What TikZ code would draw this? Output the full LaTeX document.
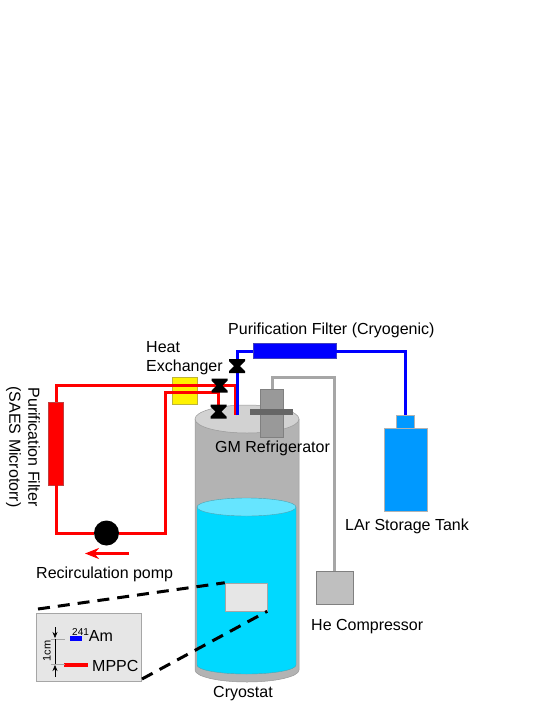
\documentclass[tikz,border=0pt]{standalone}
\usepackage{fontspec}
\setmainfont{Liberation Sans}
\usetikzlibrary{arrows.meta, positioning, calc}
\definecolor{cryogray}{HTML}{B3B3B3}
\definecolor{lidgray}{HTML}{D2D2D2}
\definecolor{pipegray}{HTML}{A6A6A6}
\definecolor{lar}{HTML}{00D9FF}
\definecolor{larlight}{HTML}{66E5FF}
\definecolor{tankblue}{HTML}{0099FF}
\definecolor{boxgray}{HTML}{E6E6E6}
\tikzset{
  lbl/.style={inner sep=0pt, font=\fontsize{16}{19}\selectfont, align=left},
  redline/.style={draw=red, line width=3pt},
  blueline/.style={draw=blue, line width=3pt},
  solidbox/.style={inner sep=0pt, line width=0.5pt},
}
\newcommand{\valve}[1]{\fill[black, shift={(#1)}] (-8,-7) -- (8,-7) -- (8,-5) -- (3,0) -- (8,5) -- (8,7) -- (-8,7) -- (-8,5) -- (-3,0) -- (-8,-5) -- cycle;}

\begin{document}
\begin{tikzpicture}[x=1pt, y=-1pt]
  \useasboundingbox (0,0) rectangle (545,705);

  % Cryostat
  \draw[gray!80, line width=0.5pt, fill=cryogray] (195,419) -- (195,670) arc[x radius=52pt, y radius=12pt, start angle=180, end angle=360] -- (299,419) -- cycle;
  \draw[gray!80, line width=0.5pt, fill=lidgray] (247,419) ellipse[x radius=52pt, y radius=14pt];

  % Liquid argon
  \draw[gray!60!lar, line width=0.4pt, fill=lar] (197,507) -- (197,665) arc[x radius=49.5pt, y radius=9pt, start angle=180, end angle=360] -- (296,507) -- cycle;
  \draw[gray!60!lar, line width=0.4pt, fill=larlight] (246.5,507) ellipse[x radius=49.5pt, y radius=9pt];

  % Main parts
  \node[solidbox, draw=yellow!70!black, fill=yellow, minimum width=25pt, minimum height=27pt] (hx) at (184.5,391) {};
  \node[solidbox, draw=gray!50!blue, fill=blue, minimum width=83pt, minimum height=15pt] (cryofilter) at (294.5,351) {};
  \node[solidbox, draw=gray!50!red, fill=red, minimum width=15pt, minimum height=83pt] (saesfilter) at (56,443.5) {};
  \node[circle, fill=black, inner sep=0pt, minimum size=25pt] (pump) at (106.5,533) {};
  \node[solidbox, draw=gray!60, fill=tankblue, minimum width=18pt, minimum height=13pt] (tankneck) at (405.5,421.5) {};
  \node[solidbox, draw=gray!60, fill=tankblue, minimum width=43pt, minimum height=83pt] (tank) at (405.5,470) {};
  \node[solidbox, draw=gray, fill=gray!50, minimum width=37pt, minimum height=33pt] (comp) at (334.5,587.5) {};
  \node[solidbox, draw=gray!70, fill=boxgray, minimum width=42pt, minimum height=28pt] (mppcbox) at (246,597) {};
  \node[solidbox, draw=gray!70, fill=boxgray, minimum width=105pt, minimum height=68pt] (inset) at (88.5,647) {};

  % Valve and line end points
  \coordinate (vone) at (237,366);
  \coordinate (vtwo) at (219.5,385.5);
  \coordinate (vthree) at (218.5,411.5);
  \coordinate (redend) at (235.5,415);
  \coordinate (blueend) at (237,415);

  % GM refrigerator
  \node[solidbox, draw=gray, fill=gray!80, minimum width=23pt, minimum height=48pt] (gm) at (272,413) {};
  \fill[gray!80!black] (250,409) rectangle (293,415);

  % Lines
  \draw[pipegray, line width=3pt] (gm.north) -- ++(0,-11) -| (comp.north);
  \draw[redline] (saesfilter.north) |- (redend |- vtwo) -- (redend);
  \draw[redline] (saesfilter.south) |- (pump.west);
  \draw[redline] (pump.east) -| (165,392) -| (vthree);
  \draw[blueline] (blueend) |- (cryofilter.west);
  \draw[blueline] (cryofilter.east) -| (tankneck.north);

  % Valves
  \valve{vone} \valve{vtwo} \valve{vthree}

  % Flow direction
  \draw[-{Stealth[length=14pt,width=11pt]}, draw=red, line width=2.5pt] (129,553.5) -- (85,553.5);

  % Zoom lines
  \coordinate (insettop) at (38,609);
  \coordinate (insetbottom) at (142,679);
  \draw[black, line width=3pt, dash pattern=on 12pt off 8pt] (insettop) -- (mppcbox.north west);
  \draw[black, line width=3pt, dash pattern=on 12pt off 8pt] (insetbottom) -- (mppcbox.south east);

  % Inset contents
  \fill[blue] (70,636) rectangle (81.5,641);
  \fill[red] (63.5,663) rectangle (88,667);
  \draw[gray!70, line width=0.5pt] (51,639) -- (65,639);
  \draw[gray!70, line width=0.5pt] (51,664) -- (65,664);
  \draw[line width=0.5pt, -{Stealth[length=6pt,width=5pt]}] (55,627) -- (55,638);
  \draw[line width=0.5pt, -{Stealth[length=6pt,width=5pt]}] (55,677) -- (55,665);
  \draw[line width=0.5pt] (55,639) -- (55,664);

  % Labels
  \node[lbl, anchor=west] (lfilter) at (228,330) {Purification Filter (Cryogenic)};
  \node[lbl, anchor=north west] (lhx) at (146,341) {Heat\\Exchanger};
  \node[lbl, anchor=west] (lgm) at (215,448) {GM Refrigerator};
  \node[lbl, anchor=west] (ltank) at (345,526) {LAr Storage Tank};
  \node[lbl, anchor=west] (lcomp) at (311,627) {He Compressor};
  \node[lbl, anchor=west] (lpump) at (36,574) {Recirculation pomp};
  \node[lbl, anchor=center] (lcryo) at (243,694) {Cryostat};
  \node[lbl, anchor=center, rotate=-90, align=center] (lsaes) at (23,447) {Purification Filter\\(SAES Microtorr)};
  \node[lbl, anchor=west] (lam) at (72,635) {\raisebox{6pt}{\fontsize{10}{12}\selectfont 241}Am};
  \node[lbl, anchor=west] (lmppc) at (92,666) {MPPC};
  \node[inner sep=0pt, rotate=90, font=\fontsize{11}{12}\selectfont] (lcm) at (47,651) {1cm};
\end{tikzpicture}
\end{document}
